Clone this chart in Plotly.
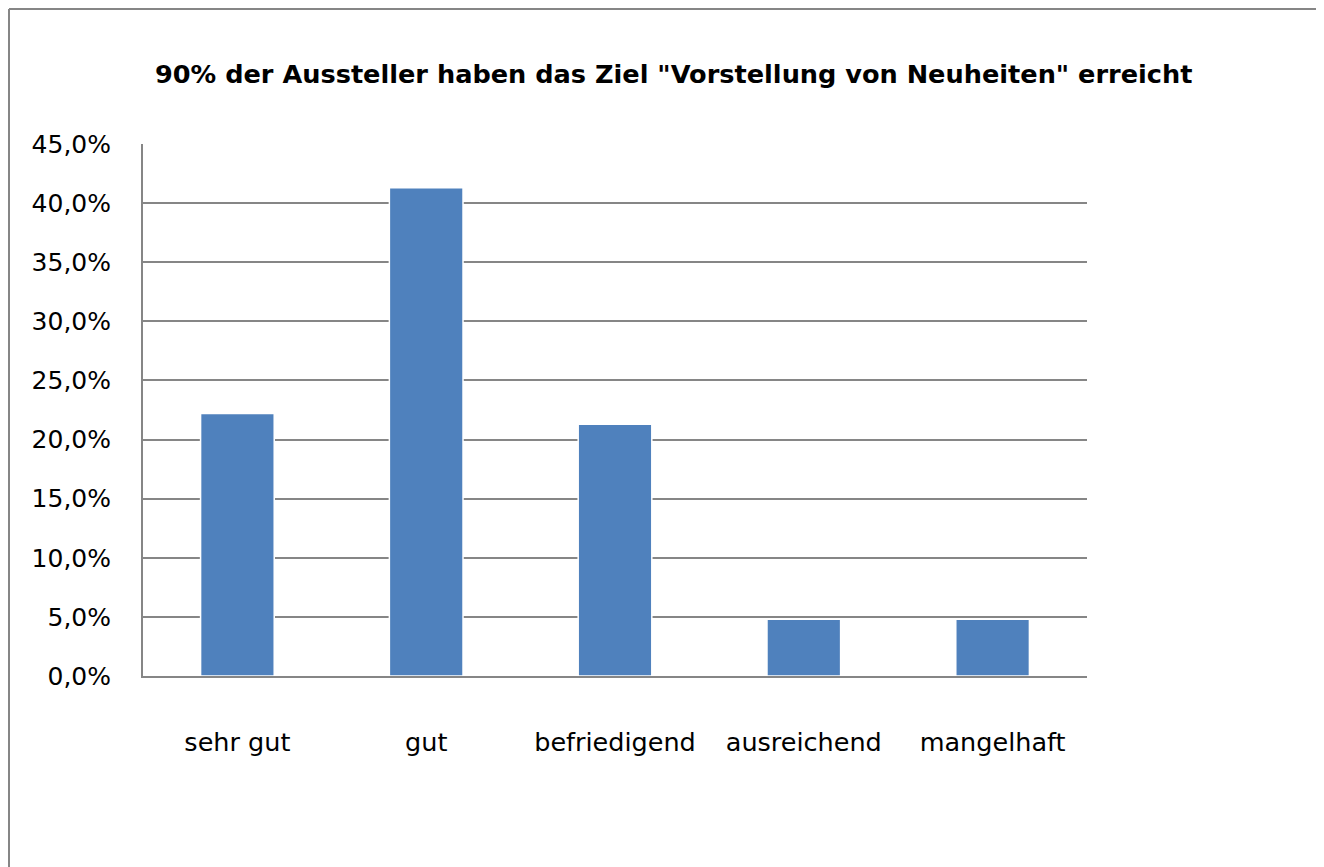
import plotly.graph_objects as go

categories = ["sehr gut", "gut", "befriedigend", "ausreichend", "mangelhaft"]
values = [0.222, 0.413, 0.213, 0.048, 0.048]
title_text = "<b>90% der Aussteller haben das Ziel \"Vorstellung von Neuheiten\" erreicht</b>"

OFF = 8  # page body margin
W, H = 1324 - OFF, 867 - OFF
# plot area in page pixels (from the reference)
L, R, T, B = 143 - OFF, 1087 - OFF, 144 - OFF, 676 - OFF
pw, ph = R - L, B - T

def px(x_page):
    return (x_page - OFF - L) / pw

def py(y_page):
    return (B - (y_page - OFF)) / ph

gray = "#868686"
font_family = "DejaVu Sans, sans-serif"

fig = go.Figure(go.Bar(
    x=categories, y=values,
    marker=dict(color="#4F81BD", line=dict(color="white", width=1.5)),
    hoverinfo="skip",
))

fig.update_layout(
    width=W, height=H,
    margin=dict(l=L, r=W - R, t=T, b=H - B, pad=0),
    paper_bgcolor="white", plot_bgcolor="white",
    separators=",.",
    bargap=0.61,
    showlegend=False,
    font=dict(family=font_family, color="black", size=25),
    xaxis=dict(
        showgrid=False, showline=True, linecolor=gray, linewidth=2,
        ticks="", tickfont=dict(size=25.5), ticklabelstandoff=42,
    ),
    yaxis=dict(
        range=[0, 0.45], dtick=0.05, tickformat=".1%",
        showgrid=True, gridcolor=gray, gridwidth=1.6,
        showline=True, linecolor=gray, linewidth=2,
        zeroline=False, ticks="", tickfont=dict(size=25),
        ticklabelstandoff=25,
    ),
    annotations=[dict(
        text=title_text, xref="paper", yref="paper",
        x=px(673), y=py(74), xanchor="center", yanchor="middle",
        showarrow=False, font=dict(family=font_family, size=25.6, color="black"),
    )],
    shapes=[
        dict(type="line", xref="paper", yref="paper",
             x0=px(9), x1=px(1330), y0=py(9), y1=py(9),
             line=dict(color=gray, width=2)),
        dict(type="line", xref="paper", yref="paper",
             x0=px(9), x1=px(9), y0=py(9), y1=py(880),
             line=dict(color=gray, width=2)),
    ],
)

fig.write_html("out.html")
